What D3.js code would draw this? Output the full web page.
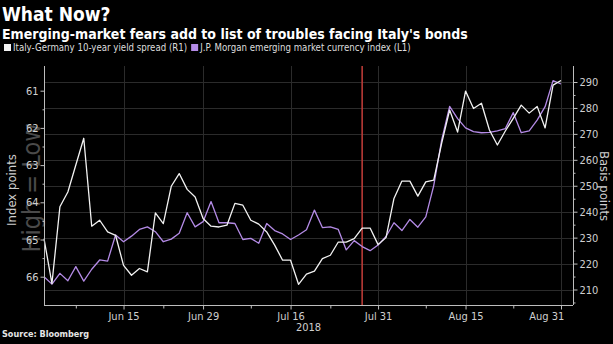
<!DOCTYPE html>
<html>
<head>
<meta charset="utf-8">
<script src="https://cdn.jsdelivr.net/npm/d3@7"></script>
<style>
  html, body { margin: 0; padding: 0; background: #000; }
  svg { display: block; }
  text { font-family: "DejaVu Sans Condensed", "DejaVu Sans", sans-serif; }
</style>
</head>
<body>
<svg id="chart" width="613" height="344"></svg>
<script>
// Trading days, 2018 (Jun 1 – Aug 31)
const dates = [
  "2018-06-01","2018-06-04","2018-06-05","2018-06-06","2018-06-07","2018-06-08",
  "2018-06-11","2018-06-12","2018-06-13","2018-06-14","2018-06-15",
  "2018-06-18","2018-06-19","2018-06-20","2018-06-21","2018-06-22",
  "2018-06-25","2018-06-26","2018-06-27","2018-06-28","2018-06-29",
  "2018-07-02","2018-07-03","2018-07-04","2018-07-05","2018-07-06",
  "2018-07-09","2018-07-10","2018-07-11","2018-07-12","2018-07-13",
  "2018-07-16","2018-07-17","2018-07-18","2018-07-19","2018-07-20",
  "2018-07-23","2018-07-24","2018-07-25","2018-07-26","2018-07-27",
  "2018-07-30","2018-07-31",
  "2018-08-01","2018-08-02","2018-08-03",
  "2018-08-06","2018-08-07","2018-08-08","2018-08-09","2018-08-10",
  "2018-08-13","2018-08-14","2018-08-15","2018-08-16","2018-08-17",
  "2018-08-20","2018-08-21","2018-08-22","2018-08-23","2018-08-24",
  "2018-08-27","2018-08-28","2018-08-29","2018-08-30","2018-08-31"
];

// Italy-Germany 10-year yield spread, basis points (right axis)
const spread = [
  229.6, 212.3, 241.9, 247.6, 258.0, 268.3, 234.4, 236.7, 232.2, 230.9,
  219.3, 215.5, 218.1, 216.8, 239.5, 235.4, 249.8, 254.7, 248.6, 245.7,
  237.4, 234.4, 234.1, 234.8, 243.2, 242.5, 236.7, 235.2, 232.2, 227.1,
  221.3, 221.3, 212.0, 215.9, 217.1, 221.9, 223.2, 228.3, 228.3, 229.6,
  233.7, 233.7, 227.3, 230.0, 245.1, 251.8, 251.8, 246.0, 251.5, 252.2,
  266.4, 279.2, 270.7, 286.5, 279.8, 281.8, 271.5, 265.7, 271.1, 276.0,
  281.1, 278.0, 280.6, 272.3, 288.8, 290.6
];

// J.P. Morgan emerging market currency index, index points (left axis, inverted)
const emfx = [
  66.00, 66.20, 65.91, 66.11, 65.73, 66.12, 65.80, 65.55, 65.58, 64.88,
  65.06, 64.91, 64.73, 64.66, 64.79, 65.06, 64.99, 64.83, 64.28, 64.66,
  64.52, 63.98, 64.55, 64.55, 64.57, 65.00, 64.97, 65.10, 64.57, 64.76,
  64.85, 65.00, 64.88, 64.74, 64.21, 64.68, 64.66, 64.73, 65.28, 65.03,
  65.19, 65.30, 65.15, 64.92, 64.55, 64.76, 64.46, 64.67, 64.39, 63.55,
  62.32, 61.42, 61.75, 62.00, 62.10, 62.13, 62.12, 62.08, 62.02, 61.59,
  62.13, 62.08, 61.79, 61.43, 60.73, 60.82
];

const xTickDates  = ["2018-06-15","2018-06-29","2018-07-16","2018-07-31","2018-08-15","2018-08-31"];
const xTickLabels = ["Jun 15","Jun 29","Jul 16","Jul 31","Aug 15","Aug 31"];
const xMinorDates = ["2018-06-07","2018-06-22","2018-07-09","2018-07-23","2018-08-08","2018-08-23"];
const leftTicks   = [61, 62, 63, 64, 65, 66];
const leftMinor   = [61.5, 62.5, 63.5, 64.5, 65.5];
const rightTicks  = [210, 220, 230, 240, 250, 260, 270, 280, 290];
const rightMinor  = [205, 215, 225, 235, 245, 255, 265, 275, 285];
const markerDate  = "2018-07-27";
const yearLabel   = "2018";

const legendItems = [
  { label: "Italy-Germany 10-year yield spread (R1)", color: "#f2f2f2" },
  { label: "J.P. Morgan emerging market currency index (L1)", color: "#b48be6" }
];

// ---- layout ----
const plotL = 44, plotR = 573, plotT = 66, plotB = 305;

const svg = d3.select("#chart");
svg.append("rect").attr("width", 613).attr("height", 344).attr("fill", "#000");

const x = d3.scalePoint().domain(dates).range([plotL, 561]);
const yR = d3.scaleLinear().domain([210, 290]).range([289.5, 82]);
const yL = d3.scaleLinear().domain([61, 66]).range([90.7, 276.7]);

// ---- titles ----
svg.append("text").attr("x", 2).attr("y", 21)
  .attr("fill", "#fff").attr("font-size", 19).attr("font-weight", "bold")
  .text("What Now?");
svg.append("text").attr("x", 2).attr("y", 39)
  .attr("fill", "#fff").attr("font-size", 14).attr("font-weight", "bold")
  .text("Emerging-market fears add to list of troubles facing Italy's bonds");

// ---- legend ----
const leg = svg.append("g");
let lx = 4;
legendItems.forEach(d => {
  leg.append("rect").attr("x", lx).attr("y", 44).attr("width", 7).attr("height", 7).attr("fill", d.color);
  const t = leg.append("text").attr("x", lx + 9).attr("y", 51)
    .attr("fill", "#ddd").attr("font-size", 9.6).text(d.label);
  lx += 9 + t.node().getComputedTextLength() + 4;
});

// ---- gridlines ----
const grid = svg.append("g").attr("stroke", "#2b2b2b").attr("stroke-width", 1);
grid.selectAll("line.h").data(rightTicks).join("line")
  .attr("x1", plotL).attr("x2", plotR)
  .attr("y1", d => Math.round(yR(d)) + 0.5).attr("y2", d => Math.round(yR(d)) + 0.5);
grid.selectAll("line.v").data(xTickDates).join("line")
  .attr("x1", d => Math.round(x(d)) + 0.5).attr("x2", d => Math.round(x(d)) + 0.5)
  .attr("y1", plotT).attr("y2", plotB);

// ---- watermark for the inverted left axis ----
svg.append("text")
  .attr("transform", "translate(40,188) rotate(-90)")
  .attr("text-anchor", "middle")
  .attr("fill", "#4a4a4a").attr("font-size", 25)
  .text("High = Low");

// ---- event marker ----
svg.append("line")
  .attr("x1", x(markerDate)).attr("x2", x(markerDate))
  .attr("y1", plotT).attr("y2", plotB)
  .attr("stroke", "#b83a36").attr("stroke-width", 1.6);

// ---- series ----
const idx = d3.range(dates.length);
const lineR = d3.line().x(i => x(dates[i])).y(i => yR(spread[i]));
const lineL = d3.line().x(i => x(dates[i])).y(i => yL(emfx[i]));

svg.append("path").datum(idx).attr("d", lineL)
  .attr("fill", "none").attr("stroke", legendItems[1].color).attr("stroke-width", 1.3)
  .attr("stroke-linejoin", "round");
svg.append("path").datum(idx).attr("d", lineR)
  .attr("fill", "none").attr("stroke", legendItems[0].color).attr("stroke-width", 1.3)
  .attr("stroke-linejoin", "round");

// ---- axes ----
const axisColor = "#bdbdbd", labelColor = "#cfcfcf";

// left
const gL = svg.append("g").attr("transform", `translate(${plotL + 0.5},0)`);
gL.call(d3.axisLeft(yL).tickValues(leftTicks).tickSize(4).tickFormat(d3.format("d")));
gL.append("g").call(d3.axisLeft(yL).tickValues(leftMinor).tickSize(2).tickFormat(""));
gL.selectAll(".domain").remove();
gL.append("line").attr("y1", plotT).attr("y2", plotB).attr("stroke", axisColor);

// right
const gR = svg.append("g").attr("transform", `translate(${plotR + 0.5},0)`);
gR.call(d3.axisRight(yR).tickValues(rightTicks).tickSize(4).tickFormat(d3.format("d")));
gR.append("g").call(d3.axisRight(yR).tickValues(rightMinor).tickSize(2).tickFormat(""));
gR.selectAll(".domain").remove();
gR.append("line").attr("y1", plotT).attr("y2", plotB).attr("stroke", axisColor);

// bottom
const gB = svg.append("g").attr("transform", `translate(0,${plotB + 0.5})`);
gB.call(d3.axisBottom(x).tickValues(xTickDates).tickSize(4)
  .tickFormat((d, i) => xTickLabels[i]));
gB.append("g").call(d3.axisBottom(x).tickValues(xMinorDates).tickSize(3).tickFormat(""));
gB.selectAll(".domain").remove();
gB.append("line").attr("x1", plotL).attr("x2", plotR).attr("stroke", axisColor);
// last label sits to the left of its tick
gB.selectAll(".tick text").filter((d, i) => i === xTickDates.length - 1)
  .attr("text-anchor", "end").attr("dx", "0.25em");

[gL, gR, gB].forEach(g => {
  g.selectAll(".tick line").attr("stroke", axisColor);
  g.selectAll(".tick text").attr("fill", labelColor).attr("font-size", 11)
    .attr("font-family", "'DejaVu Sans Condensed', 'DejaVu Sans', sans-serif");
});
gL.selectAll(".tick text").attr("x", -6);
gR.selectAll(".tick text").attr("x", 6);
gB.selectAll(".tick text").attr("y", 7);

svg.append("text").attr("x", (plotL + plotR) / 2).attr("y", 331)
  .attr("text-anchor", "middle").attr("fill", labelColor).attr("font-size", 11)
  .text(yearLabel);

// axis titles
svg.append("text").attr("transform", "translate(16,190) rotate(-90)")
  .attr("text-anchor", "middle").attr("fill", labelColor).attr("font-size", 13)
  .text("Index points");
svg.append("text").attr("transform", "translate(600,186) rotate(90)")
  .attr("text-anchor", "middle").attr("fill", labelColor).attr("font-size", 13)
  .text("Basis points");

// source
svg.append("text").attr("x", 2).attr("y", 337)
  .attr("fill", "#e6e6e6").attr("font-size", 9).attr("font-weight", "bold")
  .text("Source: Bloomberg");
</script>
</body>
</html>
